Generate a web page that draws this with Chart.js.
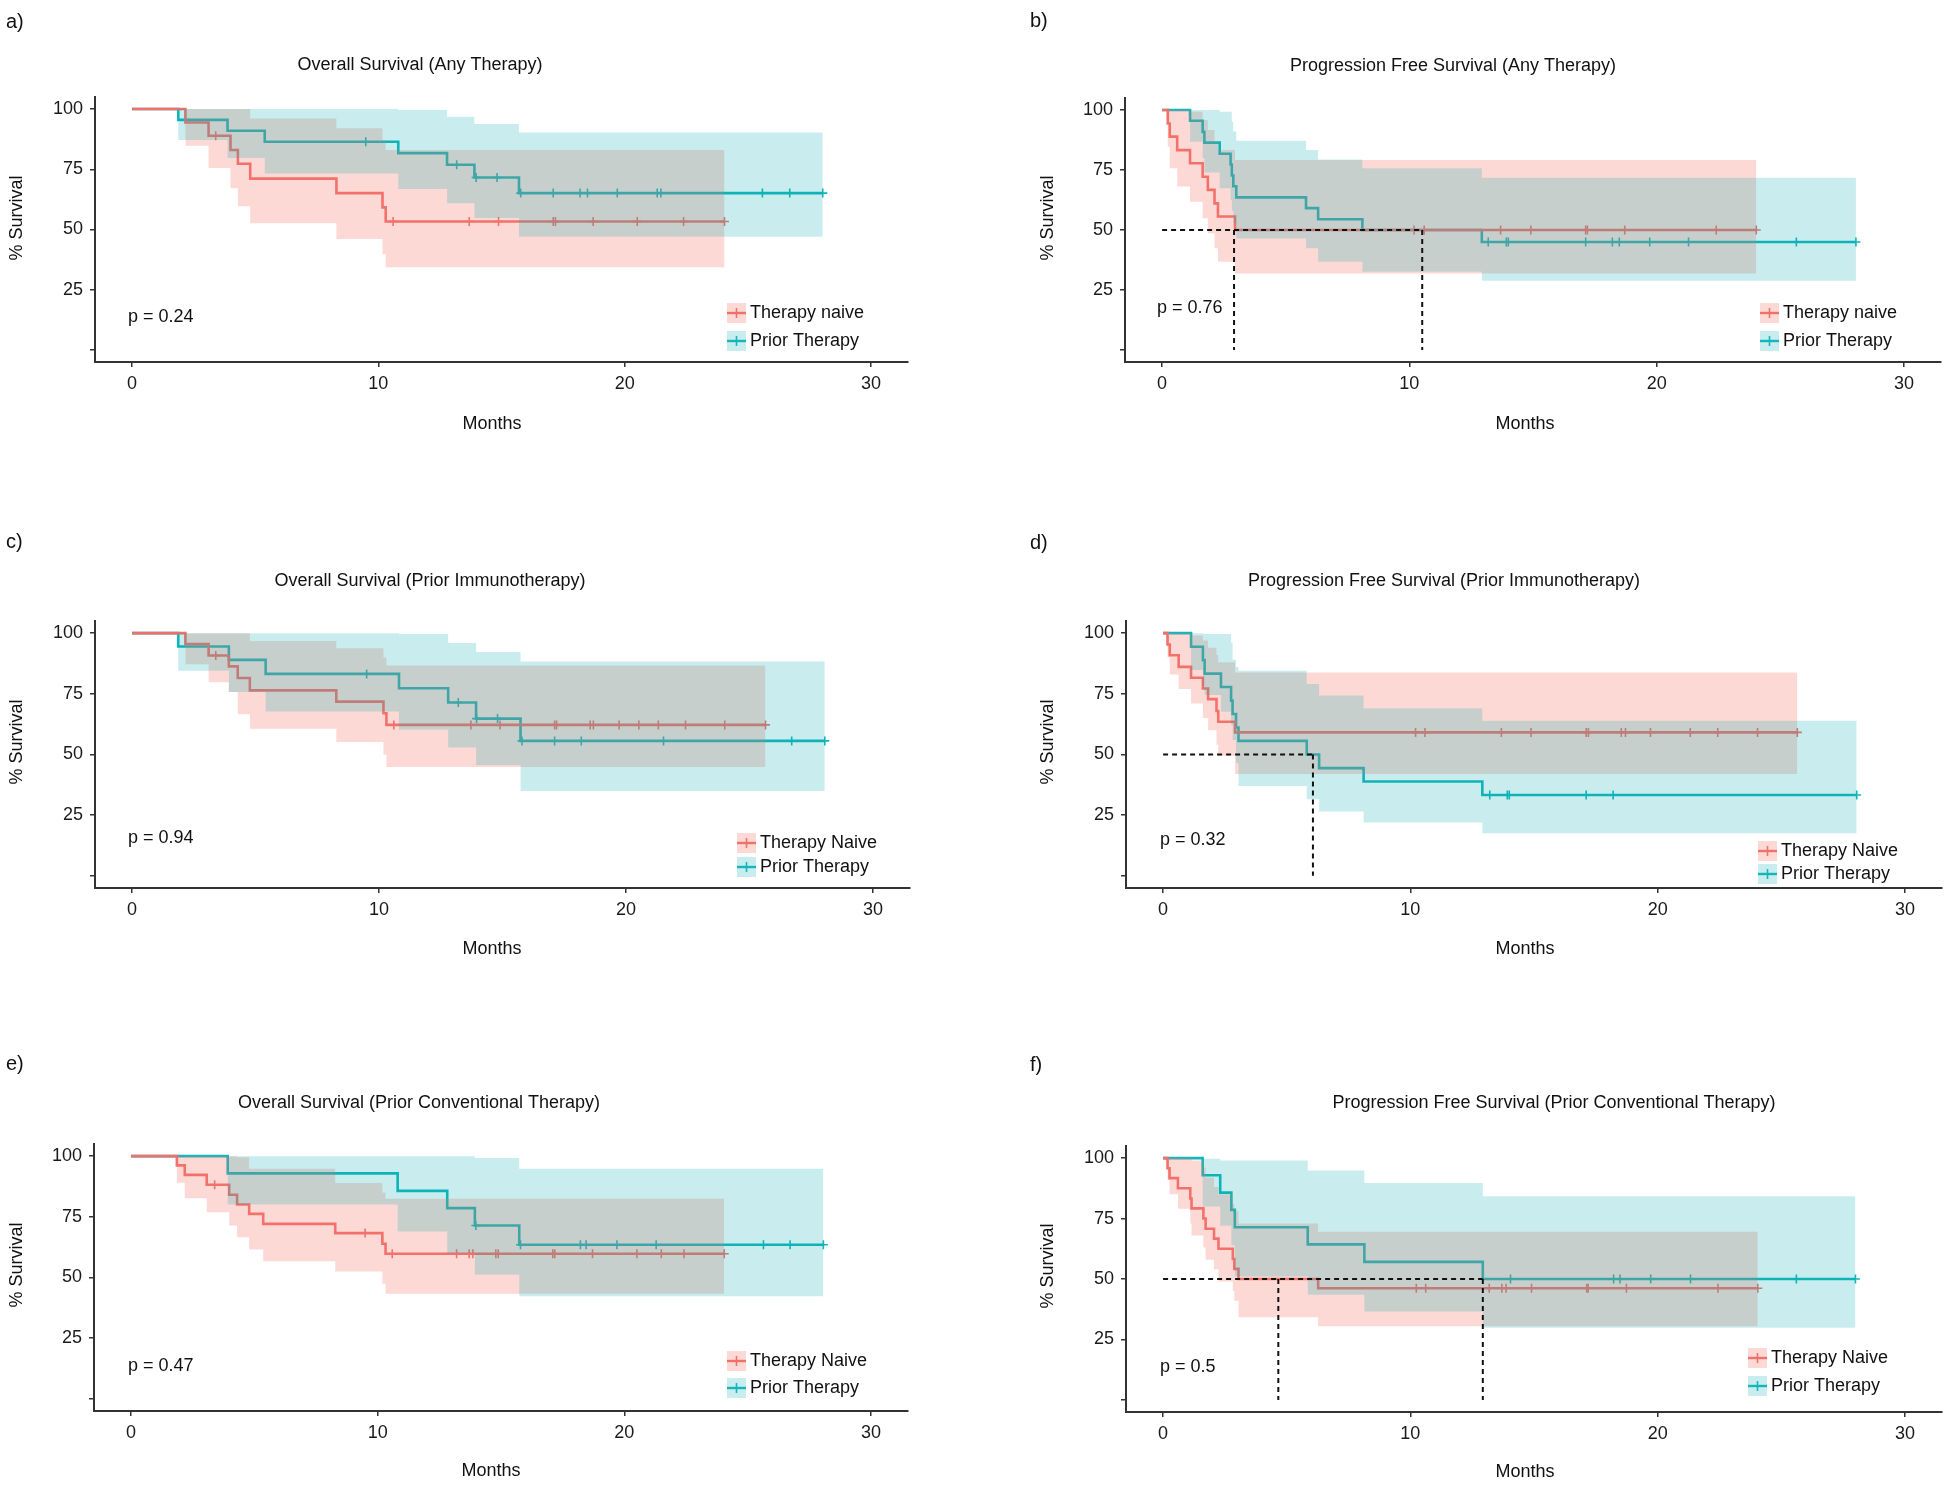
<!DOCTYPE html>
<html>
<head>
<meta charset="utf-8">
<script src="https://cdn.jsdelivr.net/npm/chart.js@4.4.1/dist/chart.umd.min.js"></script>
<style>
  html, body { margin: 0; padding: 0; background: #fff; }
  #wrap { position: relative; width: 1950px; height: 1486px; background: #fff; }
  #wrap canvas { position: absolute; left: 0; top: 0; }
</style>
</head>
<body>
<div id="wrap">
  <canvas id="pa" width="1950" height="1486"></canvas>
  <canvas id="pb" width="1950" height="1486"></canvas>
  <canvas id="pc" width="1950" height="1486"></canvas>
  <canvas id="pd" width="1950" height="1486"></canvas>
  <canvas id="pe" width="1950" height="1486"></canvas>
  <canvas id="pf" width="1950" height="1486"></canvas>
</div>
<script>
// axis ticks
const xTickValues = [0, 10, 20, 30];
const xTickLabels = ['0', '10', '20', '30'];
const yTickValues = [0, 25, 50, 75, 100];
const yTickLabels = ['', '25', '50', '75', '100'];

const panelLetters = ['a)', 'b)', 'c)', 'd)', 'e)', 'f)'];
const panelTitles = [
  'Overall Survival (Any Therapy)',
  'Progression Free Survival (Any Therapy)',
  'Overall Survival (Prior Immunotherapy)',
  'Progression Free Survival (Prior Immunotherapy)',
  'Overall Survival (Prior Conventional Therapy)',
  'Progression Free Survival (Prior Conventional Therapy)'
];
const pValues = ['p = 0.24', 'p = 0.76', 'p = 0.94', 'p = 0.32', 'p = 0.47', 'p = 0.5'];
const naiveLabels = ['Therapy naive', 'Therapy naive', 'Therapy Naive', 'Therapy Naive', 'Therapy Naive', 'Therapy Naive'];
const priorLabels = ['Prior Therapy', 'Prior Therapy', 'Prior Therapy', 'Prior Therapy', 'Prior Therapy', 'Prior Therapy'];

// a) OS, any therapy
const aNaiveT = [0, 2.17, 3.11, 4.0, 4.3, 4.8, 8.3, 10.17, 10.3];
const aNaiveS = [100, 94.4, 88.9, 83.0, 77.3, 71.1, 65.1, 59.2, 53.3];
const aNaiveHi = [100, 100, 100, 100, 100, 96.1, 92.0, 87.0, 83.0];
const aNaiveLo = [100, 84.8, 75.5, 67.1, 59.6, 52.6, 46.1, 39.8, 34.3];
const aNaiveCens = [3.4, 10.6, 13.69, 14.88, 17.1, 17.19, 18.72, 20.51, 22.39, 24.05];
const aPriorT = [0, 1.88, 3.88, 5.39, 10.81, 12.79, 13.9, 15.71];
const aPriorS = [100, 95.5, 91.0, 86.4, 81.7, 76.9, 71.6, 65.1];
const aPriorHi = [100, 100, 100, 100, 99.6, 96.8, 93.8, 90.3];
const aPriorLo = [100, 87.1, 79.7, 73.2, 66.8, 60.9, 54.8, 47.0];
const aPriorCens = [9.49, 13.18, 13.97, 14.82, 15.78, 17.1, 18.19, 18.49, 19.7, 21.32, 21.47, 25.59, 26.7, 28.04];
const aMedians = [];

// b) PFS, any therapy
const bNaiveT = [0, 0.23, 0.31, 0.61, 1.13, 1.64, 1.85, 2.12, 2.26, 2.95];
const bNaiveS = [100, 94.4, 88.9, 83.3, 77.8, 72.2, 66.7, 61.1, 55.6, 50.0];
const bNaiveHi = [100, 100, 100, 100, 99.3, 95.8, 91.7, 87.0, 83.3, 79.2];
const bNaiveLo = [100, 84.7, 75.7, 68.1, 61.8, 54.9, 48.6, 42.4, 36.8, 31.9];
const bNaiveCens = [10.19, 10.6, 13.69, 14.91, 17.13, 17.2, 18.71, 22.41, 24.03];
const bPriorT = [0, 1.13, 1.64, 1.71, 2.33, 2.77, 2.82, 2.88, 3.0, 5.82, 6.31, 8.1, 12.93];
const bPriorS = [100, 95.5, 90.9, 86.4, 81.8, 77.3, 72.7, 68.2, 63.6, 59.1, 54.5, 50.0, 45.0];
const bPriorHi = [100, 100, 100, 100, 99.3, 99.3, 95, 91, 87.2, 83.3, 79.4, 75.7, 71.8];
const bPriorLo = [100, 86.8, 80, 74, 67.4, 62.5, 58, 53, 46.5, 42.4, 36.8, 32.6, 28.9];
const bPriorCens = [13.19, 13.92, 14.0, 17.13, 18.21, 18.49, 19.72, 21.29, 25.65, 28.06];
const bMedians = [2.91, 10.52];

// c) OS, prior immunotherapy
const cNaiveT = [0, 2.16, 3.1, 3.92, 4.28, 4.77, 8.27, 10.18, 10.3];
const cNaiveS = [100, 95.5, 90.8, 86.3, 81.5, 76.4, 71.8, 67.0, 62.2];
const cNaiveHi = [100, 100, 100, 100, 100, 96.8, 93.8, 90.0, 86.7];
const cNaiveLo = [100, 87.2, 79.8, 75.7, 66.6, 60.6, 55.1, 49.9, 44.8];
const cNaiveCens = [3.39, 10.6, 13.72, 14.9, 17.11, 17.19, 18.55, 18.68, 19.72, 20.52, 21.31, 22.41, 24.0, 25.65];
const cPriorT = [0, 1.87, 3.92, 5.41, 10.81, 12.8, 13.93, 15.73];
const cPriorS = [100, 94.5, 89.0, 83.2, 77.3, 71.4, 64.8, 55.6];
const cPriorHi = [100, 100, 100, 100, 99.6, 95.9, 92.2, 88.3];
const cPriorLo = [100, 84.5, 75.7, 67.7, 60.2, 52.9, 45.7, 35.0];
const cPriorCens = [9.5, 13.21, 13.95, 14.8, 15.79, 17.11, 18.19, 21.52, 26.71, 28.05];
const cMedians = [];

// d) PFS, prior immunotherapy
const dNaiveT = [0, 0.18, 0.27, 0.63, 1.13, 1.61, 1.82, 2.16, 2.23, 2.91];
const dNaiveS = [100, 95.3, 90.9, 86.1, 81.6, 77.2, 72.8, 67.9, 63.5, 59.1];
const dNaiveHi = [100, 100, 100, 100, 99, 97, 94, 91, 88, 83.8];
const dNaiveLo = [100, 90, 83, 77, 71, 65, 60, 54, 49.5, 42];
const dNaiveCens = [10.21, 10.59, 13.68, 14.88, 17.11, 17.2, 18.53, 18.7, 19.71, 21.32, 22.43, 24.04, 25.65];
const dPriorT = [0, 1.13, 1.61, 1.68, 2.34, 2.75, 2.81, 2.95, 3.05, 5.81, 6.31, 8.11, 12.91];
const dPriorS = [100, 94.4, 88.9, 83.3, 77.8, 72.2, 66.7, 61.1, 55.6, 50.0, 44.4, 38.9, 33.3];
const dPriorHi = [100, 100, 99.6, 99.6, 99.6, 96, 89, 86, 84.5, 79, 74.3, 69.1, 63.9];
const dPriorLo = [100, 84.8, 78, 74.5, 67.6, 62, 56, 46.4, 37, 31.6, 26.5, 22, 17.6];
const dPriorCens = [13.21, 13.92, 14.0, 17.11, 18.2, 28.05];
const dMedians = [6.06];

// e) OS, prior conventional therapy
const eNaiveT = [0, 1.86, 2.18, 3.07, 3.98, 4.3, 4.79, 5.36, 8.28, 10.19, 10.32];
const eNaiveS = [100, 96.2, 92.3, 88.2, 84.1, 80.1, 76.2, 72.1, 68.3, 63.9, 59.8];
const eNaiveHi = [100, 100, 100, 100, 100, 99.5, 94.8, 94.8, 88.9, 85, 82.4];
const eNaiveLo = [100, 89, 82.7, 76.9, 71.4, 66.6, 61.5, 56.7, 52.5, 47.4, 43.3];
const eNaiveCens = [3.39, 9.49, 10.59, 13.2, 13.71, 13.86, 14.79, 14.89, 17.1, 17.18, 18.71, 20.51, 21.5, 22.42, 24.05];
const ePriorT = [0, 3.92, 10.81, 12.82, 13.94, 15.74];
const ePriorS = [100, 92.9, 85.7, 78.6, 71.4, 63.5];
const ePriorHi = [100, 100, 100, 100, 99.2, 94.8];
const ePriorLo = [100, 80.1, 69, 60, 51.1, 42.3];
const ePriorCens = [13.98, 15.79, 18.22, 18.45, 19.7, 21.29, 25.64, 26.72, 28.07];
const eMedians = [];

// f) PFS, prior conventional therapy
const fNaiveT = [0, 0.18, 0.26, 0.6, 1.1, 1.15, 1.63, 1.72, 2.06, 2.24, 2.82, 2.88, 3.05, 6.27];
const fNaiveS = [100, 95.8, 91.7, 87.5, 83.3, 79.2, 75, 70.8, 66.7, 62.5, 58.3, 54.2, 50, 46.2];
const fNaiveHi = [100, 100, 100, 100, 100, 99, 96, 92, 88, 85, 81, 78, 73, 69.5];
const fNaiveLo = [100, 91, 85, 79, 73, 68, 63, 58, 54, 49, 45, 41, 34.2, 30.5];
const fNaiveCens = [10.24, 10.62, 13.19, 13.7, 13.87, 14.9, 17.13, 17.19, 18.74, 22.44, 24.05];
const fPriorT = [0, 1.6, 2.31, 2.76, 2.9, 5.85, 8.14, 12.93];
const fPriorS = [100, 92.9, 85.7, 78.6, 71.4, 64.3, 57.1, 50.0];
const fPriorHi = [100, 99.7, 99.0, 99.0, 99.0, 94.9, 89.7, 84.2];
const fPriorLo = [100, 80, 72, 64, 51, 43.5, 36.6, 29.8];
const fPriorCens = [14.05, 18.22, 18.48, 19.72, 21.33, 25.61, 28.0];
const fMedians = [4.66, 12.93];

const RED = '#F0706A';
const TEAL = '#12B6BB';
const RED_BAND = 'rgba(248,118,109,0.28)';
const TEAL_BAND = 'rgba(0,170,175,0.21)';
const FONT = '"Liberation Sans", Arial, Helvetica, sans-serif';

Chart.defaults.font.family = FONT;
Chart.defaults.font.size = 18;
Chart.defaults.color = '#1a1a1a';

// page positions of each panel (plot area, texts)
const layouts = [
  { area: {L: 95, R: 908, T: 97, B: 362}, letter: [6, 22], title: [420, 65], yTitle: [17, 218], xTitle: [492, 424], p: [128, 317], legend: [727, 303, 331] },
  { area: {L: 1125, R: 1941, T: 98, B: 362}, letter: [1030, 21], title: [1453, 66], yTitle: [1048, 218], xTitle: [1525, 424], p: [1157, 308], legend: [1760, 303, 331] },
  { area: {L: 95, R: 910, T: 621, B: 888}, letter: [6, 542], title: [430, 581], yTitle: [17, 742], xTitle: [492, 949], p: [128, 838], legend: [737, 833, 857] },
  { area: {L: 1126, R: 1942, T: 621, B: 888}, letter: [1030, 543], title: [1444, 581], yTitle: [1048, 742], xTitle: [1525, 949], p: [1160, 840], legend: [1758, 841, 864] },
  { area: {L: 94, R: 908, T: 1144, B: 1411}, letter: [6, 1064], title: [419, 1103], yTitle: [17, 1265], xTitle: [491, 1471], p: [128, 1366], legend: [727, 1351, 1378] },
  { area: {L: 1126, R: 1942, T: 1146, B: 1412}, letter: [1030, 1065], title: [1554, 1103], yTitle: [1048, 1266], xTitle: [1525, 1472], p: [1160, 1367], legend: [1748, 1348, 1376] }
];

const series = [
  [aNaiveT, aNaiveS, aNaiveHi, aNaiveLo, aNaiveCens, aPriorT, aPriorS, aPriorHi, aPriorLo, aPriorCens, aMedians],
  [bNaiveT, bNaiveS, bNaiveHi, bNaiveLo, bNaiveCens, bPriorT, bPriorS, bPriorHi, bPriorLo, bPriorCens, bMedians],
  [cNaiveT, cNaiveS, cNaiveHi, cNaiveLo, cNaiveCens, cPriorT, cPriorS, cPriorHi, cPriorLo, cPriorCens, cMedians],
  [dNaiveT, dNaiveS, dNaiveHi, dNaiveLo, dNaiveCens, dPriorT, dPriorS, dPriorHi, dPriorLo, dPriorCens, dMedians],
  [eNaiveT, eNaiveS, eNaiveHi, eNaiveLo, eNaiveCens, ePriorT, ePriorS, ePriorHi, ePriorLo, ePriorCens, eMedians],
  [fNaiveT, fNaiveS, fNaiveHi, fNaiveLo, fNaiveCens, fPriorT, fPriorS, fPriorHi, fPriorLo, fPriorCens, fMedians]
];

function stepData(times, values, end) {
  const pts = times.map((t, i) => ({x: t, y: values[i]}));
  pts.push({x: end, y: values[values.length - 1]});
  return pts;
}

function valueAt(times, values, t) {
  let v = values[0];
  for (let i = 0; i < times.length; i++) {
    if (times[i] <= t) v = values[i];
  }
  return v;
}

function groupDatasets(T, S, Hi, Lo, cens, color, band, bandOrder) {
  const end = Math.max(...cens);
  return [
    { data: stepData(T, S, end), borderColor: color, borderWidth: 2.6, stepped: true, pointRadius: 0, fill: false, order: 3 },
    { data: cens.map(t => ({x: t, y: valueAt(T, S, t)})), showLine: false, pointStyle: 'cross',
      pointRadius: 4.5, pointBorderWidth: 1.6, pointBorderColor: color, pointBackgroundColor: color, order: 3 },
    { data: stepData(T, Hi, end), borderColor: 'rgba(0,0,0,0)', backgroundColor: band, stepped: true,
      pointRadius: 0, fill: '+1', order: bandOrder },
    { data: stepData(T, Lo, end), borderColor: 'rgba(0,0,0,0)', stepped: true, pointRadius: 0, fill: false, order: bandOrder }
  ];
}

function medianDatasets(meds) {
  if (!meds.length) return [];
  const dash = { borderColor: '#111', borderWidth: 2, borderDash: [5, 4], pointRadius: 0, fill: false, order: 0 };
  const out = [Object.assign({ data: [{x: 0, y: 50}, {x: Math.max(...meds), y: 50}] }, dash)];
  meds.forEach(m => out.push(Object.assign({ data: [{x: m, y: 50}, {x: m, y: 0}] }, dash)));
  return out;
}

const kmText = {
  id: 'kmText',
  afterDraw(chart, args, o) {
    const ctx = chart.ctx;
    const lay = o.lay;
    ctx.save();
    ctx.fillStyle = '#111';
    ctx.textBaseline = 'middle';

    ctx.font = '20px ' + FONT;
    ctx.textAlign = 'left';
    ctx.fillText(o.letter, lay.letter[0], lay.letter[1]);

    ctx.font = '18px ' + FONT;
    ctx.textAlign = 'center';
    ctx.fillText(o.title, lay.title[0], lay.title[1]);
    ctx.fillText('Months', lay.xTitle[0], lay.xTitle[1]);

    ctx.save();
    ctx.translate(lay.yTitle[0], lay.yTitle[1]);
    ctx.rotate(-Math.PI / 2);
    ctx.fillText('% Survival', 0, 0);
    ctx.restore();

    ctx.textAlign = 'left';
    ctx.fillText(o.p, lay.p[0], lay.p[1]);

    // legend keys
    const items = [[o.naive, RED, RED_BAND, lay.legend[1]], [o.prior, TEAL, TEAL_BAND, lay.legend[2]]];
    const bx = lay.legend[0];
    items.forEach(([label, col, band, by]) => {
      const w = 19, h = 20, cy = by + h / 2;
      ctx.fillStyle = band;
      ctx.fillRect(bx, by, w, h);
      ctx.strokeStyle = col;
      ctx.lineWidth = 2.4;
      ctx.beginPath();
      ctx.moveTo(bx, cy);
      ctx.lineTo(bx + w, cy);
      ctx.stroke();
      ctx.lineWidth = 1.6;
      ctx.beginPath();
      ctx.moveTo(bx + w / 2, cy - 5);
      ctx.lineTo(bx + w / 2, cy + 5);
      ctx.stroke();
      ctx.fillStyle = '#111';
      ctx.fillText(label, bx + w + 4, cy);
    });
    ctx.restore();
  }
};
Chart.register(kmText);

const ids = ['pa', 'pb', 'pc', 'pd', 'pe', 'pf'];
ids.forEach((id, k) => {
  const [nT, nS, nHi, nLo, nC, pT, pS, pHi, pLo, pC, meds] = series[k];
  const lay = layouts[k];
  const a = lay.area;
  const datasets = [].concat(
    groupDatasets(nT, nS, nHi, nLo, nC, RED, RED_BAND, 2),
    groupDatasets(pT, pS, pHi, pLo, pC, TEAL, TEAL_BAND, 1),
    medianDatasets(meds)
  );
  new Chart(document.getElementById(id), {
    type: 'line',
    data: { datasets: datasets },
    options: {
      responsive: false,
      animation: false,
      events: [],
      layout: { padding: { left: a.L - 60, right: 1950 - a.R, top: a.T, bottom: 1486 - a.B - 60 } },
      scales: {
        x: {
          type: 'linear', min: -1.5, max: 31.5,
          afterBuildTicks: s => { s.ticks = xTickValues.map(v => ({value: v})); },
          afterFit: s => { s.height = 60; },
          ticks: { padding: 6, color: '#1a1a1a', font: {size: 18}, maxRotation: 0,
                   callback: (v, i) => xTickLabels[i] },
          grid: { drawOnChartArea: false, drawTicks: true, tickLength: 5, color: '#333', lineWidth: 1.5 },
          border: { display: true, color: '#333', width: 2 }
        },
        y: {
          type: 'linear', min: -5, max: 105,
          afterBuildTicks: s => { s.ticks = yTickValues.map(v => ({value: v})); },
          afterFit: s => { s.width = 60; },
          ticks: { padding: 7, color: '#1a1a1a', font: {size: 18},
                   callback: (v, i) => yTickLabels[i] },
          grid: { drawOnChartArea: false, drawTicks: true, tickLength: 5, color: '#333', lineWidth: 1.5 },
          border: { display: true, color: '#333', width: 2 }
        }
      },
      plugins: {
        legend: { display: false },
        tooltip: { enabled: false },
        kmText: { lay: lay, letter: panelLetters[k], title: panelTitles[k], p: pValues[k],
                  naive: naiveLabels[k], prior: priorLabels[k] }
      }
    }
  });
});
</script>
</body>
</html>
